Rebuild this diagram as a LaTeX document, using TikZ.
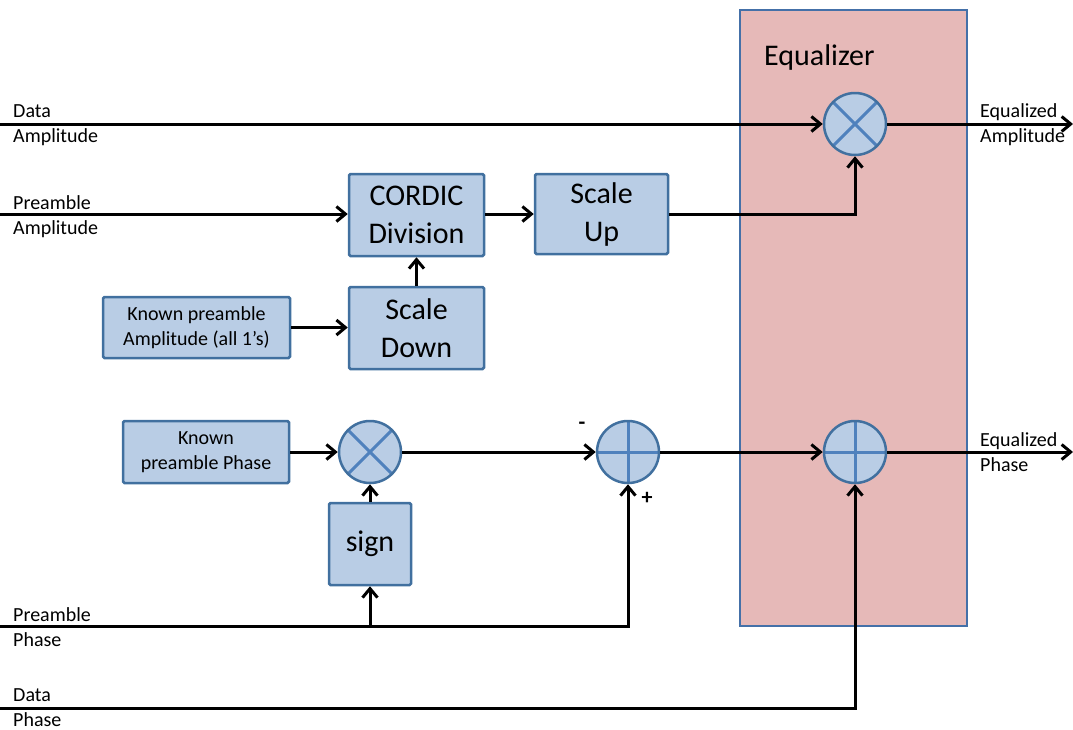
\documentclass[tikz,border=0pt]{standalone}
\usepackage{fontspec}
\setmainfont{Carlito}
\usetikzlibrary{arrows.meta}
\definecolor{boxfill}{HTML}{B9CDE5}
\definecolor{boxline}{HTML}{41709F}
\definecolor{crossline}{HTML}{4F81BD}
\definecolor{eqfill}{HTML}{E6B9B8}
\definecolor{eqline}{HTML}{4470A8}
\tikzset{
  blk/.style={draw=boxline, fill=boxfill, line width=2.5pt, rounded corners=1.5pt, align=center, inner sep=2pt},
  bigtxt/.style={font=\fontsize{30}{38}\selectfont},
  smalltxt/.style={font=\fontsize{20}{25}\selectfont},
  sigtxt/.style={font=\fontsize{20}{25}\selectfont, align=left, anchor=west, inner sep=0pt},
  opnode/.style={circle, draw=boxline, fill=boxfill, line width=2.5pt, minimum size=62pt, inner sep=0pt},
  mult/.style={opnode, path picture={
      \draw[crossline, line width=3pt] (path picture bounding box.north west) -- (path picture bounding box.south east)
        (path picture bounding box.north east) -- (path picture bounding box.south west);}},
  adder/.style={opnode, path picture={
      \draw[crossline, line width=3pt] (path picture bounding box.north) -- (path picture bounding box.south)
        (path picture bounding box.east) -- (path picture bounding box.west);}},
  sig/.style={line width=3pt, -{Straight Barb[length=9pt, width=15pt, line width=3pt]}},
  wire/.style={line width=3pt}
}
\begin{document}
\begin{tikzpicture}[x=1pt, y=-1pt]
  \useasboundingbox (0,0) rectangle (1073,729);

  % equalizer block
  \node[draw=eqline, fill=eqfill, line width=2.8pt, minimum width=227pt, minimum height=616pt, inner sep=0pt] (eq) at (853.5,318) {};
  \node[font=\fontsize{30}{36}\selectfont, anchor=west, inner sep=0pt] (eqlabel) at (764,57) {Equalizer};

  % processing blocks
  \node[blk, bigtxt, minimum width=135pt, minimum height=82pt] (cordic) at (416.5,215) {CORDIC\\Division};
  \node[blk, bigtxt, minimum width=133pt, minimum height=80pt] (up) at (601.5,214) {\raisebox{-3pt}{Scale}\\\raisebox{-3pt}{Up}};
  \node[blk, bigtxt, minimum width=135pt, minimum height=82pt] (down) at (416.5,328) {Scale\\Down};
  \node[blk, smalltxt, minimum width=187pt, minimum height=61pt] (kamp) at (196.5,327.5) {Known preamble\\Amplitude (all 1’s)};
  \node[blk, smalltxt, minimum width=166pt, minimum height=62pt] (kph) at (206,452) {Known\\preamble Phase};
  \node[blk, bigtxt, minimum width=82pt, minimum height=82pt] (sign) at (370,544) {\raisebox{-3pt}{sign}};

  % arithmetic operators
  \node[mult] (m1) at (855,124) {};
  \node[mult] (m2) at (370,452) {};
  \node[adder] (a1) at (628,452) {};
  \node[adder] (a2) at (855,452) {};

  % inputs and outputs
  \coordinate (inDA) at (0,124);
  \coordinate (inPA) at (0,214);
  \coordinate (inPP) at (0,626);
  \coordinate (inDP) at (0,708);
  \coordinate (outA) at (1073,124);
  \coordinate (outP) at (1073,452);
  \coordinate (ppT) at (370,626);

  \node[sigtxt] (lDA) at (13,125) {Data\\Amplitude};
  \node[sigtxt] (lPA) at (13,216.5) {Preamble\\Amplitude};
  \node[sigtxt] (lPP) at (13,627) {Preamble\\Phase};
  \node[sigtxt] (lDP) at (13,708) {Data\\Phase};
  \node[sigtxt] (lEA) at (980,125) {Equalized\\Amplitude};
  \node[sigtxt] (lEP) at (980,452.5) {Equalized\\Phase};
  \node[font=\fontsize{22}{26}\selectfont\bfseries, inner sep=0pt] (minus) at (582,426) {-};
  \node[font=\fontsize{22}{26}\selectfont\bfseries, inner sep=0pt] (plus) at (647,498) {+};

  % amplitude path
  \draw[sig] (inDA) -- (m1.west);
  \draw[sig] (m1.east) -- (outA);
  \draw[sig] (inPA) -- (cordic.west |- inPA);
  \draw[sig] (cordic.east |- inPA) -- (up.west |- inPA);
  \draw[sig] (up.east |- inPA) -| (m1.south);
  \draw[sig] (down.north) -- (cordic.south);
  \draw[sig] (kamp.east) -- (down.west |- kamp.east);

  % phase path
  \draw[sig] (kph.east) -- (m2.west);
  \draw[sig] (m2.east) -- (a1.west);
  \draw[sig] (a1.east) -- (a2.west);
  \draw[sig] (a2.east) -- (outP);
  \draw[sig] (sign.north) -- (m2.south);
  \draw[sig] (inPP) -| (a1.south);
  \draw[sig] (ppT) -- (sign.south);
  \draw[sig] (inDP) -| (a2.south);
\end{tikzpicture}
\end{document}
